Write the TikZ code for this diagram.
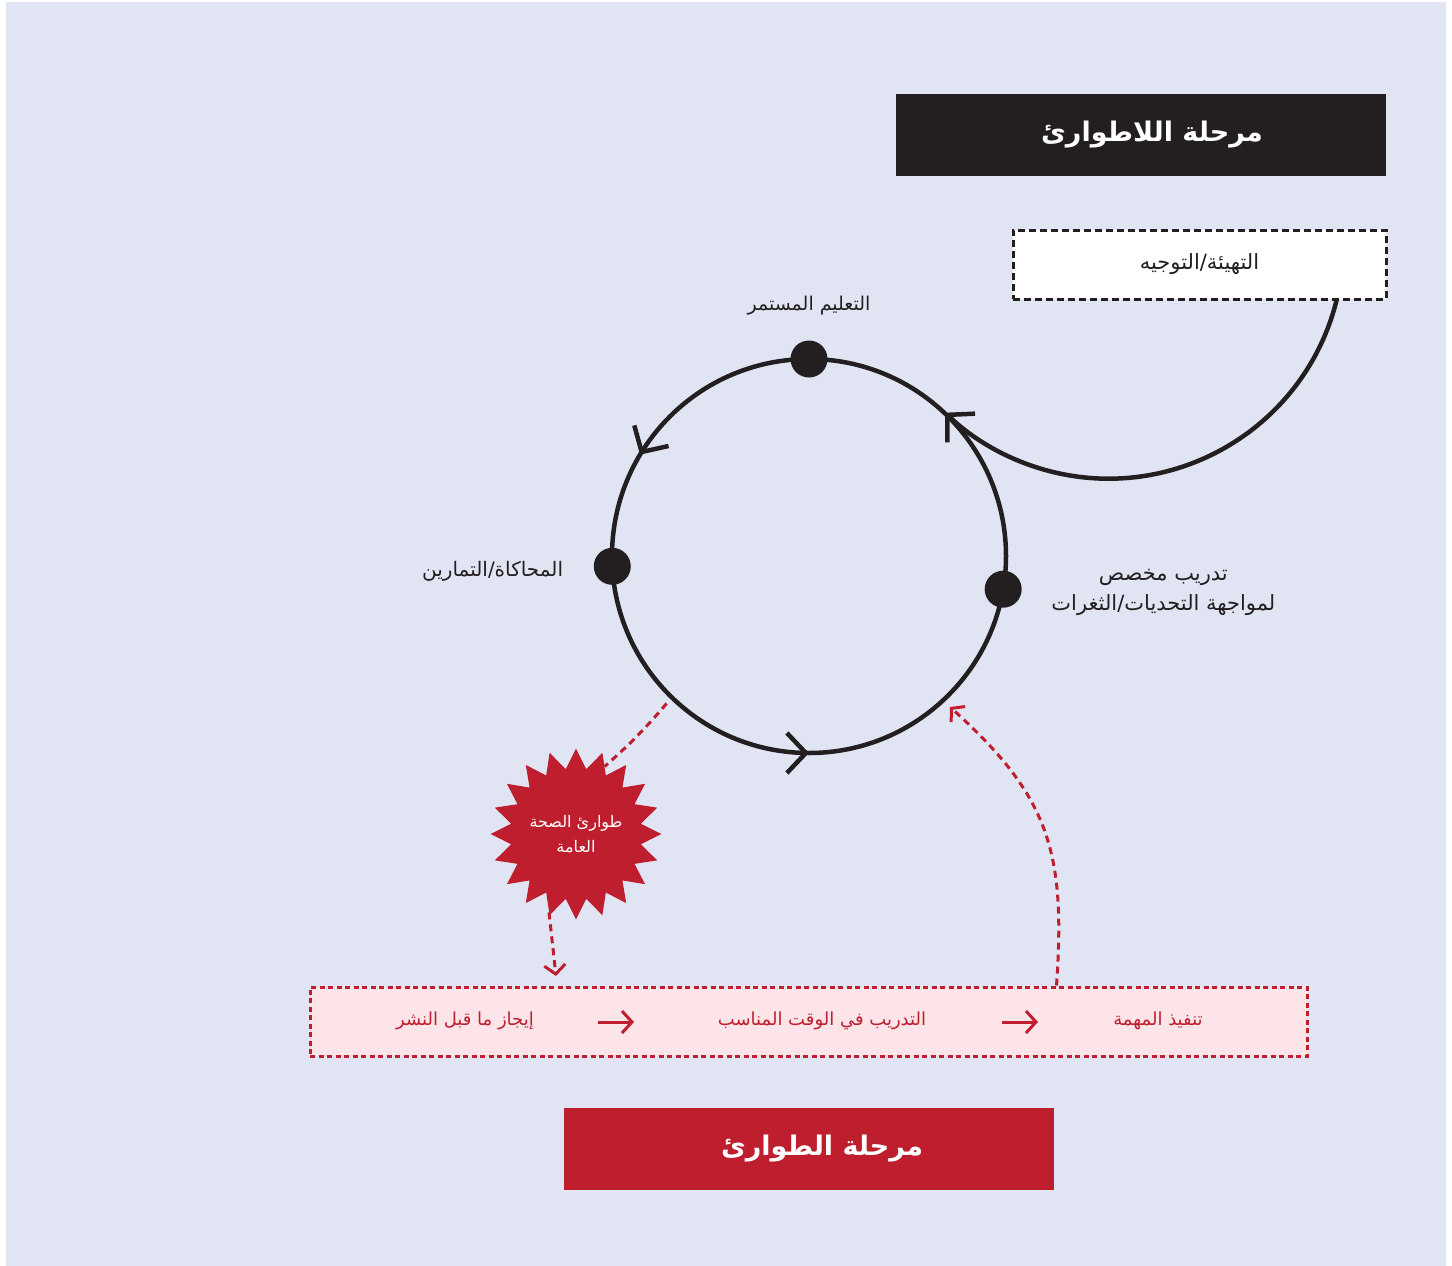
\documentclass[tikz,border=0pt]{standalone}
\usepackage{fontspec}
\newfontfamily\arabicfont[Script=Arabic]{DejaVu Sans}
\TeXXeTstate=1
\usetikzlibrary{arrows.meta,decorations.markings,positioning,shapes.geometric}
\definecolor{pagebg}{HTML}{E1E5F3}
\definecolor{inkdark}{HTML}{231F20}
\definecolor{alertred}{HTML}{BE1E2D}
\definecolor{bandpink}{HTML}{FDE4E9}
\newcommand{\artxt}[1]{\beginR #1\endR}

\begin{document}
\begin{tikzpicture}[x=1pt, y=1pt,
  chev/.tip={Straight Barb[length=19pt,width=40pt]},
  rchev/.tip={Straight Barb[length=9pt,width=21pt]},
  bchev/.tip={Straight Barb[length=10pt,width=22pt]},
  lbl/.style={font=\arabicfont\fontsize{20}{30}\selectfont, text=inkdark, align=center},
  dot/.style={circle, fill=inkdark, minimum size=37pt, inner sep=0pt},
  phase/.style={minimum width=490pt, minimum height=82pt, text=white, font=\arabicfont\bfseries\fontsize{27}{32}\selectfont},
  reddash/.style={alertred, line width=3pt, dash pattern=on 7pt off 5pt},
  redtxt/.style={font=\arabicfont\fontsize{18}{24}\selectfont, text=alertred}
]

\useasboundingbox (0,0) rectangle (1452,-1266);
\fill[pagebg] (6,-2) rectangle (1446,-1266);

% non-emergency
\node[phase, fill=inkdark] (calm) at (1141,-135) {\hspace*{22pt}\artxt{مرحلة اللاطوارئ}};
\node[lbl, font=\arabicfont\fontsize{21}{30}\selectfont, draw=inkdark, fill=white, line width=3pt, dash pattern=on 7pt off 4pt, minimum width=373pt, minimum height=69pt] (prep) at (1199.5,-264.5) {\artxt{التهيئة/التوجيه}};

% cycle
\coordinate (c) at (809,-556);
\draw[inkdark, line width=4.5pt, postaction={decorate, decoration={markings,
  mark=at position 0.414 with {\arrow{chev}},
  mark=at position 0.75 with {\arrow{chev}}}}] (c) circle[radius=197];
\draw[inkdark, line width=4.5pt, -chev] ([xshift=-51pt]prep.south east) arc[start angle=-14, end angle=-134, radius=235];

\node[dot] (learn) at ([shift={(90:197)}]c) {};
\node[dot] (drill) at ([shift={(183:197)}]c) {};
\node[dot] (gaps) at ([shift={(-9.7:197)}]c) {};
\node[lbl, font=\arabicfont\fontsize{19}{30}\selectfont, above=22pt of learn] (learnlbl) {\artxt{التعليم المستمر}};
\node[lbl, left=27pt of drill, yshift=-5pt] (drilllbl) {\artxt{المحاكاة/التمارين}};
\node[lbl, font=\arabicfont\fontsize{21}{30}\selectfont, right=26pt of gaps, yshift=-3pt] (gapslbl) {\artxt{تدريب مخصص}\\\artxt{لمواجهة التحديات/الثغرات}};

% emergency
\node[star, star points=20, star point ratio=1.3, minimum size=164pt, inner sep=0pt, fill=alertred, text=white, align=center, font=\arabicfont\fontsize{16}{25}\selectfont] (burst) at (576,-834) {\artxt{طوارئ الصحة}\\\artxt{العامة}};
\node[draw=alertred, fill=bandpink, line width=3pt, dash pattern=on 5pt off 3.5pt, minimum width=997pt, minimum height=69pt] (band) at (808.5,-1021.5) {};
\node[redtxt] (exec) at (1158,-1021) {\artxt{تنفيذ المهمة}};
\node[redtxt] (timely) at (822,-1021) {\artxt{التدريب في الوقت المناسب}};
\node[redtxt] (brief) at (465,-1021) {\artxt{إيجاز ما قبل النشر}};
\coordinate (a1s) at (598,-1022);
\coordinate (a1e) at (634,-1022);
\coordinate (a2s) at (1002,-1022);
\coordinate (a2e) at (1038,-1022);
\draw[alertred, line width=3pt, -bchev] (a1s) -- (a1e);
\draw[alertred, line width=3pt, -bchev] (a2s) -- (a2e);

\coordinate (cutpt) at ([shift={(226:205)}]c);
\coordinate (dropend) at (556,-976);
\coordinate (riseend) at (950,-707);
\draw[reddash] (cutpt) to[bend left=4] (burst.67);
\draw[reddash, -rchev] (burst.-109) -- (dropend);
\draw[reddash, -rchev] ([xshift=-252pt]band.north east) to[out=86, in=-42, looseness=1.15] (riseend);

\node[phase, fill=alertred] (crisis) at (809,-1149) {\hspace*{26pt}\artxt{مرحلة الطوارئ}};

\end{tikzpicture}
\end{document}
